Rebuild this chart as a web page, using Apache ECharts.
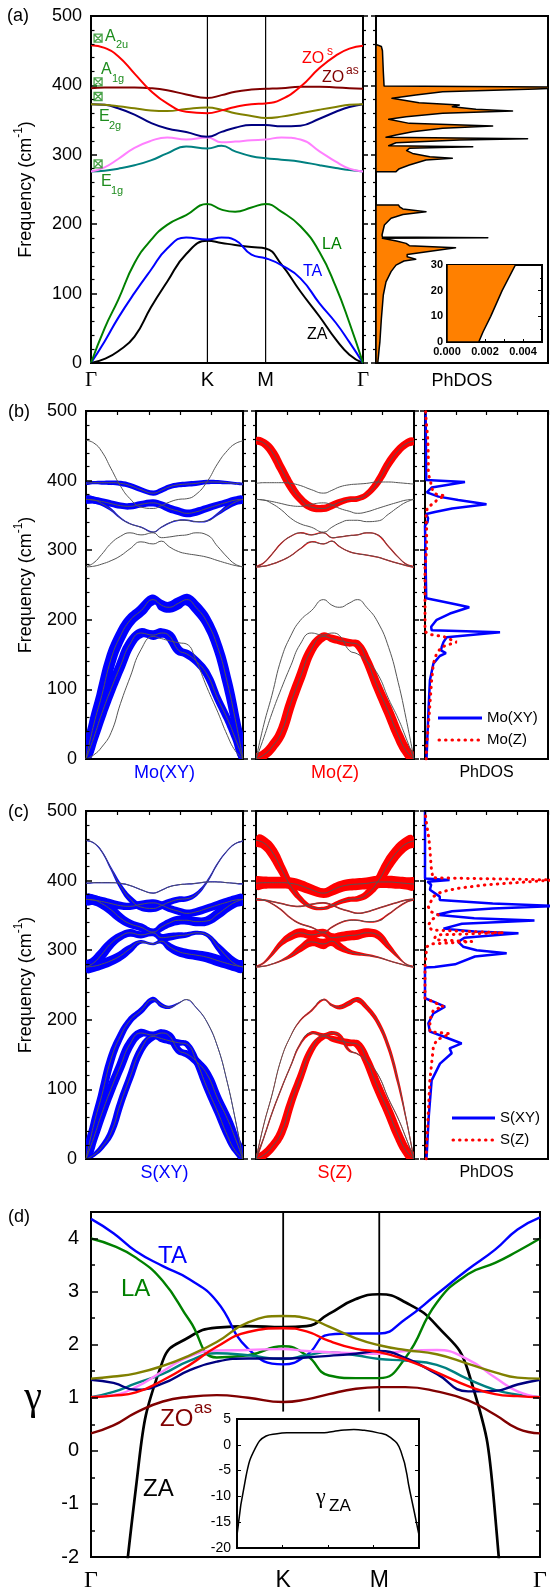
<!DOCTYPE html>
<html>
<head>
<meta charset="utf-8">
<script src="https://cdn.jsdelivr.net/npm/echarts@6.0.0/dist/echarts.min.js"></script>
<style>
html, body { margin: 0; padding: 0; background: #fff; }
#chart { width: 550px; height: 1593px; }
</style>
</head>
<body>
<div id="chart"></div>
<script>
// ---------- path through the Brillouin zone (normalised length) ----------
const kpath = [0, 0.05, 0.10, 0.16, 0.22, 0.28, 0.35, 0.428, 0.48, 0.53, 0.59, 0.642, 0.70, 0.77, 0.84, 0.90, 0.95, 1.0];
const K_POS = 0.428;
const M_POS = 0.642;
const pathLabels = ['Γ', 'K', 'M', 'Γ'];

// ---------- phonon dispersion, cm^-1 ----------
const freqZA   = [0, 6, 17, 38, 80, 117, 157, 176, 173, 170, 167, 165, 142, 103, 67, 34, 12, 0];
const freqTA   = [0, 31, 65, 101, 134, 165, 181, 178, 181, 177, 156, 151, 141, 122, 86, 58, 30, 0];
const freqLA   = [0, 50, 91, 144, 177, 199, 213, 229, 221, 218, 224, 229, 218, 197, 160, 110, 58, 0];
const freqTO1  = [276, 277, 280, 285, 292, 302, 312, 309, 313, 305, 298, 295, 293, 290, 285, 281, 278, 276];
const freqTO2  = [276, 282, 294, 310, 320, 325, 322, 325, 318, 319, 321, 322, 325, 322, 305, 290, 280, 276];
const freqLO1  = [373, 372, 367, 358, 346, 338, 333, 326, 333, 339, 343, 343, 341, 342, 352, 362, 369, 373];
const freqLO2  = [373, 372, 370, 367, 364, 363, 366, 368, 365, 360, 356, 353, 355, 360, 365, 369, 372, 373];
const freqZOas = [396, 397, 397, 397, 396, 393, 387, 382, 386, 391, 394, 395, 396, 398, 398, 397, 396, 395];
const freqZOs  = [458, 454, 442, 417, 392, 374, 362, 360, 364, 369, 373, 374, 380, 398, 425, 443, 453, 457];

// Raman / IR modes at Γ
const ramanNames = ['A2u', 'A1g', 'E2g', 'E1g'];
const ramanFreq  = [468, 405, 384, 287];

// ---------- projection weights (0..1) per branch, order ZA,TA,LA,TO1,TO2,LO1,LO2,ZOas,ZOs ----------
const wMoXY = [
  null,
  [0.6, 0.7, 0.75, 0.75, 0.75, 0.75, 0.75, 0.75, 0.75, 0.75, 0.7, 0.65, 0.6, 0.6, 0.55, 0.55, 0.5, 0.5],
  [0.7, 0.8, 0.85, 0.85, 0.85, 0.85, 0.85, 0.8, 0.8, 0.85, 0.9, 0.9, 0.85, 0.8, 0.75, 0.75, 0.7, 0.6],
  null,
  null,
  [0.55, 0.5, 0.35, 0.2, 0.12, 0.1, 0.1, 0.1, 0.1, 0.1, 0.1, 0.1, 0.1, 0.12, 0.2, 0.35, 0.5, 0.55],
  [0.55, 0.55, 0.5, 0.5, 0.5, 0.5, 0.5, 0.55, 0.55, 0.6, 0.6, 0.6, 0.6, 0.55, 0.5, 0.5, 0.55, 0.55],
  [0.2, 0.25, 0.3, 0.35, 0.4, 0.4, 0.4, 0.4, 0.4, 0.4, 0.4, 0.4, 0.4, 0.35, 0.3, 0.25, 0.2, 0.15],
  null
];
const wMoZ = [
  [0.7, 0.75, 0.75, 0.75, 0.75, 0.75, 0.7, 0.65, 0.6, 0.6, 0.6, 0.6, 0.65, 0.7, 0.75, 0.75, 0.75, 0.7],
  null,
  null,
  [0.1, 0.1, 0.1, 0.1, 0.1, 0.1, 0.1, 0.1, 0.1, 0.1, 0.1, 0.1, 0.1, 0.1, 0.1, 0.1, 0.1, 0.1],
  [0.1, 0.1, 0.1, 0.1, 0.1, 0.1, 0.1, 0.1, 0.1, 0.1, 0.1, 0.1, 0.1, 0.1, 0.1, 0.1, 0.1, 0.1],
  null,
  null,
  null,
  [0.55, 0.6, 0.65, 0.65, 0.65, 0.6, 0.6, 0.55, 0.55, 0.5, 0.45, 0.45, 0.45, 0.55, 0.6, 0.6, 0.6, 0.55]
];
const wSXY = [
  [0.2, 0.3, 0.4, 0.5, 0.55, 0.55, 0.55, 0.55, 0.55, 0.55, 0.5, 0.45, 0.5, 0.55, 0.55, 0.5, 0.4, 0.3],
  [0.6, 0.65, 0.7, 0.7, 0.7, 0.7, 0.65, 0.55, 0.6, 0.6, 0.55, 0.55, 0.6, 0.65, 0.65, 0.65, 0.6, 0.6],
  [0.5, 0.55, 0.6, 0.6, 0.55, 0.5, 0.45, 0.45, 0.35, 0.25, 0.1, 0.05, 0.05, 0.05, 0.05, 0.05, 0.05, 0.05],
  [0.9, 0.85, 0.8, 0.75, 0.7, 0.6, 0.3, 0.2, 0.4, 0.6, 0.7, 0.75, 0.75, 0.8, 0.85, 0.85, 0.9, 0.9],
  [0.9, 0.85, 0.8, 0.7, 0.6, 0.6, 0.55, 0.55, 0.6, 0.6, 0.5, 0.4, 0.3, 0.3, 0.5, 0.7, 0.85, 0.9],
  [0.8, 0.8, 0.75, 0.75, 0.7, 0.65, 0.6, 0.55, 0.6, 0.65, 0.7, 0.7, 0.7, 0.7, 0.75, 0.75, 0.8, 0.8],
  [0.8, 0.75, 0.7, 0.65, 0.6, 0.55, 0.55, 0.55, 0.55, 0.55, 0.55, 0.6, 0.6, 0.6, 0.65, 0.7, 0.75, 0.8],
  [0.08, 0.08, 0.08, 0.08, 0.08, 0.08, 0.08, 0.08, 0.08, 0.08, 0.08, 0.08, 0.08, 0.08, 0.08, 0.08, 0.08, 0.08],
  [0.08, 0.08, 0.1, 0.15, 0.3, 0.45, 0.55, 0.55, 0.55, 0.5, 0.45, 0.4, 0.3, 0.15, 0.1, 0.08, 0.08, 0.08]
];
const wSZ = [
  [0.6, 0.65, 0.65, 0.65, 0.6, 0.55, 0.5, 0.45, 0.45, 0.5, 0.55, 0.6, 0.65, 0.7, 0.7, 0.7, 0.7, 0.7],
  [0.1, 0.1, 0.1, 0.1, 0.1, 0.15, 0.25, 0.3, 0.3, 0.3, 0.2, 0.1, 0.05, 0.05, 0.05, 0.05, 0.05, 0.05],
  [0.05, 0.05, 0.05, 0.05, 0.05, 0.1, 0.15, 0.15, 0.2, 0.35, 0.4, 0.4, 0.35, 0.3, 0.25, 0.2, 0.1, 0.05],
  [0.1, 0.1, 0.1, 0.15, 0.3, 0.5, 0.7, 0.8, 0.75, 0.6, 0.4, 0.3, 0.2, 0.15, 0.1, 0.1, 0.1, 0.1],
  [0.1, 0.15, 0.25, 0.4, 0.6, 0.7, 0.7, 0.6, 0.7, 0.75, 0.75, 0.75, 0.7, 0.6, 0.4, 0.2, 0.1, 0.1],
  [0.12, 0.12, 0.12, 0.12, 0.12, 0.12, 0.12, 0.12, 0.12, 0.12, 0.12, 0.12, 0.12, 0.12, 0.12, 0.12, 0.12, 0.12],
  [0.12, 0.12, 0.12, 0.12, 0.12, 0.12, 0.12, 0.12, 0.12, 0.12, 0.12, 0.12, 0.12, 0.12, 0.12, 0.12, 0.12, 0.12],
  [0.95, 0.95, 0.9, 0.9, 0.9, 0.85, 0.8, 0.75, 0.8, 0.85, 0.9, 0.9, 0.9, 0.95, 0.95, 0.95, 0.95, 0.95],
  [0.9, 0.9, 0.85, 0.7, 0.55, 0.4, 0.3, 0.25, 0.3, 0.35, 0.4, 0.45, 0.55, 0.7, 0.85, 0.9, 0.95, 0.95]
];

// ---------- phonon DOS, [frequency, DOS] ----------
const phdosTotal = [
  [0, 0.00167], [4, 0.0019], [10, 0.0023], [20, 0.0029], [30, 0.0036], [64, 0.005], [98, 0.0068],
  [117, 0.0093], [131.6, 0.014], [141, 0.0186], [147, 0.026], [149.5, 0.037], [153, 0.029], [156.5, 0.029],
  [166, 0.074], [169, 0.031], [172.4, 0.028], [175.8, 0.019], [179.6, 0.006], [180.5, 0.104], [181.5, 0.006],
  [184.4, 0.0056], [198.8, 0.0078], [208.5, 0.014], [214, 0.025], [218, 0.0465], [222, 0.025], [225, 0.022],
  [227.6, 0.021], [228, 0], [275.5, 0], [275.7, 0.0186], [280, 0.0217], [285.3, 0.031], [292.5, 0.0465],
  [295, 0.071], [297.3, 0.05], [302, 0.034], [306, 0.0285], [309.3, 0.031], [311.7, 0.09], [313.1, 0.0118],
  [317.4, 0.0186], [321.3, 0.0775], [323.2, 0.141], [325.2, 0.0093], [328.5, 0.0186], [333.3, 0.034],
  [338.1, 0.062], [341.5, 0.1085], [345.3, 0.031], [351.1, 0.0118], [354.9, 0.028], [359.7, 0.062],
  [363.1, 0.127], [365.5, 0.093], [369.3, 0.071], [371.8, 0.0775], [375.1, 0.04], [381.4, 0.0149],
  [386.2, 0.037], [391, 0.062], [394.8, 0.149], [397.5, 0.2], [399.3, 0.0075], [420, 0.0068], [450, 0.006],
  [456, 0.005], [459, 0]
];
const phdosMoXY = [
  [0, 0.01], [3, 0.013], [65, 0.027], [113, 0.04], [137, 0.068], [148, 0.12], [152, 0.17], [156, 0.13],
  [161, 0.136], [168, 0.15], [175, 0.176], [182, 0.61], [185, 0.054], [190, 0.05], [200, 0.095], [209, 0.203],
  [218, 0.36], [222, 0.257], [227, 0.12], [231, 0.01], [335, 0.0], [340, 0.02], [346, 0.025], [352, 0.01],
  [355, 0.08], [360, 0.22], [366, 0.5], [372, 0.27], [377, 0.11], [383, 0.015], [390, 0.054], [398, 0.325],
  [401, 0.01], [500, 0.005]
];
const phdosMoZ = [
  [0, 0.01], [18, 0.013], [66, 0.035], [113, 0.054], [137, 0.068], [152, 0.095], [161, 0.136], [168, 0.257],
  [176, 0.15], [179, 0.04], [183, 0.0], [274, 0.0], [276, 0.013], [300, 0.013], [330, 0.013], [345, 0.01],
  [353, 0.008], [362, 0.022], [367, 0.068], [374, 0.108], [378, 0.163], [381, 0.081], [389, 0.054], [398, 0.046],
  [406, 0.033], [413, 0.027], [437, 0.027], [461, 0.022], [490, 0.008], [500, 0.005]
];
const phdosSXY = [
  [0, 0.005], [3, 0.013], [60, 0.03], [113, 0.054], [137, 0.122], [152, 0.217], [159, 0.2], [166, 0.298],
  [176, 0.15], [183, 0.04], [195, 0.027], [209, 0.068], [219, 0.163], [226, 0.068], [231, 0.0], [275, 0.0],
  [276, 0.08], [279.7, 0.244], [291, 0.406], [295.5, 0.664], [300, 0.42], [305, 0.31], [312, 0.27], [318, 0.32],
  [324.3, 0.76], [327, 0.4], [331, 0.15], [338, 0.3], [342.5, 0.89], [346, 0.4], [351, 0.095], [356, 0.22],
  [360, 0.55], [363.5, 1.05], [367, 0.55], [372, 0.12], [377, 0.12], [387, 0.04], [394, 0.05], [398.5, 0.02],
  [401, 0.2], [403, 0.0], [500, 0.0]
];
const phdosSZ = [
  [0, 0.01], [18, 0.013], [114, 0.04], [161, 0.068], [171, 0.095], [180, 0.203], [183, 0.04], [200, 0.04],
  [214, 0.068], [219, 0.15], [228, 0.04], [231, 0], [276, 0], [277, 0.008], [305, 0.014], [309, 0.054],
  [312.4, 0.38], [315, 0.08], [318.6, 0.081], [322, 0.108], [325, 0.64], [329, 0.054], [336, 0.027],
  [343.5, 0.054], [350.7, 0.108], [356, 0.04], [362.6, 0.027], [377, 0.068], [384, 0.135], [389, 0.27],
  [393.8, 0.49], [401, 1.05], [404, 0.06], [408, 0.06], [420, 0.05], [444, 0.04], [458.6, 0.033], [487, 0.008],
  [500, 0]
];

// ---------- mode Grüneisen parameters ----------
const gamZA   = [-17.5, -6, -0.7, 1.7, 2.15, 2.32, 2.35, 2.33, 2.35, 2.58, 2.86, 2.95, 2.8, 2.36, 1.5, -1.2, -9, -17.5];
const gamTA   = [4.37, 4.1, 3.76, 3.48, 3.23, 2.82, 1.92, 1.63, 1.80, 2.19, 2.21, 2.21, 2.48, 2.95, 3.42, 3.79, 4.17, 4.4];
const gamLA   = [4.0, 3.86, 3.64, 3.2, 2.45, 1.76, 1.8, 1.97, 1.80, 1.42, 1.37, 1.37, 1.75, 2.79, 3.33, 3.54, 3.76, 4.0];
const gamTO1  = [1.01, 1.11, 1.27, 1.45, 1.70, 1.84, 1.80, 1.73, 1.80, 1.86, 1.80, 1.73, 1.70, 1.62, 1.35, 1.15, 1.06, 1.01];
const gamTO2  = [1.01, 1.05, 1.2, 1.5, 1.78, 1.89, 1.9, 1.92, 1.88, 1.86, 1.84, 1.83, 1.88, 1.9, 1.72, 1.38, 1.12, 1.01];
const gamLO1  = [1.34, 1.28, 1.15, 1.27, 1.52, 1.68, 1.74, 1.74, 1.76, 1.79, 1.83, 1.88, 1.75, 1.45, 1.12, 1.13, 1.25, 1.34];
const gamLO2  = [1.36, 1.40, 1.46, 1.6, 1.8, 2.05, 2.42, 2.54, 2.50, 2.34, 2.12, 1.99, 1.9, 1.82, 1.64, 1.48, 1.38, 1.36];
const gamZOas = [0.33, 0.48, 0.72, 0.93, 1.02, 1.05, 1.0, 0.92, 0.97, 1.07, 1.17, 1.2, 1.2, 1.12, 0.95, 0.68, 0.42, 0.33];
const gamZOs  = [1.01, 1.04, 1.10, 1.33, 1.62, 1.96, 2.24, 2.31, 2.25, 2.07, 1.92, 1.86, 1.72, 1.48, 1.22, 1.07, 1.03, 1.01];

// ---------- drawing ----------
const bands = [freqZA, freqTA, freqLA, freqTO1, freqTO2, freqLO1, freqLO2, freqZOas, freqZOs];
const gammas = [gamZA, gamTA, gamLA, gamTO1, gamTO2, gamLO1, gamLO2, gamZOas, gamZOs];
const branchColors = ['#000000', '#0000ff', '#008000', '#008080', '#ff80ff', '#000080', '#808000', '#800000', '#ff0000'];

const FONT = '"Liberation Sans", Arial, sans-serif';
const SERIF = '"Liberation Serif", "DejaVu Serif", serif';
const GREEN_TXT = '#1e8c1e';
const BLUE = '#0000ff', RED = '#ff0000';
const FAT_MAX = 13;
const RAMAN_X = 0.026;

const grids = [
  { left: 91, top: 16, width: 272, height: 347 },                 // 0 (a) dispersion
  { left: 376, top: 16, width: 172, height: 347 },                // 1 (a) PhDOS
  { left: 447, top: 265, width: 95, height: 77, z: 5 },           // 2 (a) inset
  { left: 86, top: 411, width: 157, height: 348 },                // 3 (b) Mo(XY)
  { left: 256, top: 411, width: 158, height: 348 },               // 4 (b) Mo(Z)
  { left: 425, top: 411, width: 123, height: 348 },               // 5 (b) PhDOS
  { left: 86, top: 811, width: 157, height: 348 },                // 6 (c) S(XY)
  { left: 256, top: 811, width: 158, height: 348 },               // 7 (c) S(Z)
  { left: 425, top: 811, width: 123, height: 348 },               // 8 (c) PhDOS
  { left: 91, top: 1212, width: 449, height: 347 },               // 9 (d) Grüneisen
  { left: 237, top: 1419, width: 182, height: 129, z: 5 }         // 10 (d) inset
].map(g => Object.assign({ show: true, borderColor: '#000', borderWidth: 2, backgroundColor: '#fff', containLabel: false }, g));

const xAxes = [], yAxes = [];
function baseAxis(grid) {
  return { gridIndex: grid, type: 'value', axisLine: { show: false, onZero: false }, splitLine: { show: false },
    axisTick: { show: false }, axisLabel: { show: false }, z: (grid === 2 || grid === 10) ? 7 : 4 };
}
function addX(grid, o) { xAxes.push(Object.assign(baseAxis(grid), o)); return xAxes.length - 1; }
function addY(grid, o) { yAxes.push(Object.assign(baseAxis(grid), o)); return yAxes.length - 1; }
function tick(inside, len, w) { return { show: true, inside: inside, length: len, lineStyle: { color: '#000', width: w || 1.5 } }; }
function minor(n, len) { return { show: true, splitNumber: n, length: len, lineStyle: { color: '#000', width: 1.2 } }; }
function numLabel(size, margin, extra) {
  return Object.assign({ show: true, color: '#000', fontSize: size, fontFamily: FONT, margin: margin }, extra || {});
}
function pathLabel(size, margin) {
  return {
    show: true, customValues: [0, K_POS, M_POS, 1], color: '#000', fontSize: size, fontFamily: FONT, margin: margin,
    formatter: function (v) {
      const i = [0, K_POS, M_POS, 1].findIndex(p => Math.abs(p - v) < 1e-6);
      const t = pathLabels[i < 0 ? 0 : i];
      return t === 'Γ' ? '{g|Γ}' : t;
    },
    rich: { g: { fontFamily: SERIF, fontSize: size + 1, color: '#000' } }
  };
}
const freqRange = { min: 0, max: 500, interval: 100 };

// (a)
const ax0 = addX(0, { min: 0, max: 1, axisLabel: pathLabel(20, 7) });
const ay0 = addY(0, Object.assign({ position: 'left', axisTick: tick(true, 6), minorTick: minor(5, 3.5), axisLabel: numLabel(18, 9) }, freqRange));
addY(0, Object.assign({ position: 'right', axisTick: tick(false, 5), minorTick: minor(5, 3) }, freqRange));
const ax1 = addX(1, { min: 0, max: 0.16 });
const ay1 = addY(1, Object.assign({ position: 'left', axisTick: tick(false, 5), minorTick: minor(5, 3) }, freqRange));
const ax2 = addX(2, { min: 0, max: 0.005, interval: 0.001, axisTick: tick(true, 3, 1),
  axisLabel: numLabel(11, 4, { fontWeight: 'bold', formatter: v => (Math.round(v * 1000) % 2 === 0 ? v.toFixed(3) : '') }) });
const ay2 = addY(2, { min: 0, max: 30, interval: 10, position: 'left', axisTick: tick(true, 4, 1), minorTick: minor(2, 2),
  axisLabel: numLabel(11, 4, { fontWeight: 'bold' }) });
addY(2, { min: 0, max: 30, interval: 10, position: 'right', axisTick: tick(true, 4, 1), minorTick: minor(2, 2) });

// (b) and (c)
function projectionAxes(g0) {
  const r = {};
  r.x0 = addX(g0, { min: 0, max: 1, interval: 0.2, position: 'top', axisTick: tick(true, 4, 1.2) });
  r.y0 = addY(g0, Object.assign({ position: 'left', axisTick: tick(true, 6), minorTick: minor(5, 3.5), axisLabel: numLabel(18, 9) }, freqRange));
  addY(g0, Object.assign({ position: 'right', axisTick: tick(false, 5), minorTick: minor(5, 3) }, freqRange));
  r.x1 = addX(g0 + 1, { min: 0, max: 1, interval: 0.2, position: 'top', axisTick: tick(true, 4, 1.2) });
  r.y1 = addY(g0 + 1, Object.assign({ position: 'left', axisTick: tick(false, 5), minorTick: minor(5, 3) }, freqRange));
  addY(g0 + 1, Object.assign({ position: 'right', axisTick: tick(false, 5), minorTick: minor(5, 3) }, freqRange));
  r.x2 = addX(g0 + 2, { min: 0, max: 1, interval: 0.25, position: 'top', axisTick: tick(true, 4, 1.2) });
  r.y2 = addY(g0 + 2, Object.assign({ position: 'left', axisTick: tick(false, 5), minorTick: minor(5, 3) }, freqRange));
  return r;
}
const axB = projectionAxes(3);
const axC = projectionAxes(6);

// (d)
const ax9 = addX(9, { min: 0, max: 1, axisLabel: pathLabel(23, 12) });
const ay9 = addY(9, { min: -2, max: 4.5, interval: 1, position: 'left', axisTick: tick(true, 7),
  axisLabel: numLabel(20, 12, { formatter: v => (Number.isInteger(v) ? String(v) : '') }) });
addY(9, { min: -2, max: 4.5, interval: 0.5, position: 'left', axisTick: tick(true, 4) });
addY(9, { min: -2, max: 4.5, interval: 1, position: 'right', axisTick: tick(true, 7) });
addY(9, { min: -2, max: 4.5, interval: 0.5, position: 'right', axisTick: tick(true, 4) });
const ax10 = addX(10, { min: 0, max: 1, interval: 0.25, axisTick: tick(true, 3, 1) });
const ay10 = addY(10, { min: -20, max: 5, interval: 5, position: 'left', axisTick: tick(true, 4, 1), axisLabel: numLabel(14, 6) });
addY(10, { min: -20, max: 5, interval: 5, position: 'right', axisTick: tick(true, 4, 1) });

// ---------- series ----------
const series = [];
function pathLine(xi, yi, values, color, width, z) {
  return { type: 'line', xAxisIndex: xi, yAxisIndex: yi, data: kpath.map((x, i) => [x, values[i]]),
    smooth: true, symbol: 'none', silent: true, z: z || 3, lineStyle: { color: color, width: width } };
}
function vLine(xi, yi, x, y0, y1, w) {
  return { type: 'line', xAxisIndex: xi, yAxisIndex: yi, data: [[x, y0], [x, y1]], symbol: 'none', silent: true, z: 2,
    lineStyle: { color: '#000', width: w || 1.2 } };
}
function fatBands(xi, yi, weights, color) {
  const items = [];
  weights.forEach((w, b) => { if (w) items.push([0.5, 250, b]); });
  return {
    type: 'custom', xAxisIndex: xi, yAxisIndex: yi, clip: true, silent: true, z: 2, data: items,
    renderItem: function (params, api) {
      const b = api.value(2);
      const w = weights[b], band = bands[b];
      const pts = kpath.map((x, i) => api.coord([x, band[i]]));
      const up = [], dn = [];
      for (let i = 0; i < pts.length; i++) {
        const a = pts[Math.max(0, i - 1)], c = pts[Math.min(pts.length - 1, i + 1)];
        const tx = c[0] - a[0], ty = c[1] - a[1];
        const L = Math.hypot(tx, ty) || 1;
        const nx = -ty / L, ny = tx / L, h = w[i] * FAT_MAX / 2;
        up.push([pts[i][0] + nx * h, pts[i][1] + ny * h]);
        dn.push([pts[i][0] - nx * h, pts[i][1] - ny * h]);
      }
      return { type: 'polygon', shape: { points: up.concat(dn.reverse()), smooth: 0.4 }, style: { fill: color } };
    }
  };
}
function dosFill(xi, yi, data, z) {
  return {
    type: 'custom', xAxisIndex: xi, yAxisIndex: yi, clip: true, silent: true, z: z || 2, data: [[0, 0]],
    renderItem: function (params, api) {
      const pts = [api.coord([0, data[0][0]])];
      data.forEach(p => pts.push(api.coord([p[1], p[0]])));
      pts.push(api.coord([0, data[data.length - 1][0]]));
      return { type: 'polygon', shape: { points: pts }, style: { fill: '#ff8000', stroke: '#000', lineWidth: 1.5, lineJoin: 'round' } };
    }
  };
}
function dosLine(xi, yi, data, color, dotted) {
  return { type: 'line', xAxisIndex: xi, yAxisIndex: yi, data: data.map(p => [p[1], p[0]]), symbol: 'none', silent: true,
    z: dotted ? 4 : 3,
    lineStyle: dotted ? { color: color, width: 3, type: [0.5, 6], cap: 'round' } : { color: color, width: 2.5 } };
}

// (a) dispersion
series.push(vLine(ax0, ay0, K_POS, 0, 500), vLine(ax0, ay0, M_POS, 0, 500));
bands.forEach((b, i) => series.push(pathLine(ax0, ay0, b, branchColors[i], 2)));
series.push({
  type: 'scatter', xAxisIndex: ax0, yAxisIndex: ay0, silent: true, z: 5,
  data: ramanFreq.map(f => [RAMAN_X, f]),
  symbol: 'path://M0,0L10,0L10,10L0,10ZM0,0L10,10M10,0L0,10', symbolSize: 8,
  itemStyle: { color: 'rgba(0,0,0,0)', borderColor: GREEN_TXT, borderWidth: 1.3 }
});
series.push(dosFill(ax1, ay1, phdosTotal));
series.push(dosFill(ax2, ay2, phdosTotal, 8));

// (b) and (c) projected dispersions
function projected(ax, wXY, wZ, dosXY, dosZ) {
  series.push(fatBands(ax.x0, ax.y0, wXY, BLUE));
  series.push(fatBands(ax.x1, ax.y1, wZ, RED));
  bands.forEach(b => {
    series.push(pathLine(ax.x0, ax.y0, b, '#555', 1, 3));
    series.push(pathLine(ax.x1, ax.y1, b, '#555', 1, 3));
  });
  series.push(dosLine(ax.x2, ax.y2, dosXY, BLUE, false));
  series.push(dosLine(ax.x2, ax.y2, dosZ, RED, true));
}
projected(axB, wMoXY, wMoZ, phdosMoXY, phdosMoZ);
projected(axC, wSXY, wSZ, phdosSXY, phdosSZ);

// (d) Grüneisen
series.push(vLine(ax9, ay9, K_POS, 4.5, 0.74, 1.8), vLine(ax9, ay9, M_POS, 4.5, 0.74, 1.8));
gammas.forEach((g, i) => series.push(pathLine(ax9, ay9, g, branchColors[i], i === 0 ? 2.7 : 2.4)));
series.push(Object.assign(pathLine(ax10, ay10, gamZA, '#000', 1.5), { z: 8 }));

// ---------- text ----------
function txt(x, y, text, size, color, o) {
  return Object.assign({ type: 'text', x: x, y: y, z: 100, silent: true,
    style: Object.assign({ text: text, fill: color || '#000', fontSize: size, fontFamily: FONT, align: 'left', verticalAlign: 'middle' }, (o && o.style) || {}) },
    o && o.rotation ? { rotation: o.rotation } : {});
}
function ctxt(x, y, text, size, color, family) {
  return txt(x, y, text, size, color, { style: { align: 'center', fontFamily: family || FONT } });
}
function freqTitle(cx, cy) {
  return { type: 'text', x: cx, y: cy, rotation: Math.PI / 2, z: 100, silent: true,
    style: { text: '{n|Frequency (cm}{s|-1}{n|)}', align: 'center', verticalAlign: 'middle',
      rich: { n: { fontSize: 18, fontFamily: FONT, fill: '#000', lineHeight: 23, verticalAlign: 'bottom' },
              s: { fontSize: 12, fontFamily: FONT, fill: '#000', lineHeight: 12, verticalAlign: 'top' } } } };
}
const graphics = [
  // (a)
  txt(7, 16, '(a)', 18), freqTitle(24, 189.5),
  txt(105, 37, 'A', 16, GREEN_TXT), txt(116, 45, '2u', 11, GREEN_TXT),
  txt(101, 70, 'A', 16, GREEN_TXT), txt(112, 79, '1g', 11, GREEN_TXT),
  txt(99, 117, 'E', 16, GREEN_TXT), txt(109, 126, '2g', 11, GREEN_TXT),
  txt(101, 182, 'E', 16, GREEN_TXT), txt(111, 191, '1g', 11, GREEN_TXT),
  txt(302, 59, 'ZO', 16, RED), txt(327, 52, 's', 12, RED),
  txt(322, 78, 'ZO', 16, '#800000'), txt(346, 71, 'as', 12, '#800000'),
  txt(322, 245, 'LA', 16, '#008000'), txt(303, 272, 'TA', 16, BLUE), txt(307, 335, 'ZA', 16, '#000'),
  ctxt(462, 381, 'PhDOS', 18),
  // (b)
  txt(8, 412, '(b)', 18), freqTitle(24, 585),
  ctxt(164.5, 773, 'Mo(XY)', 18, BLUE), ctxt(335, 773, 'Mo(Z)', 18, RED), ctxt(486.5, 773, 'PhDOS', 16),
  { type: 'line', z: 100, silent: true, shape: { x1: 438, y1: 718, x2: 482, y2: 718 }, style: { stroke: BLUE, lineWidth: 3 } },
  { type: 'line', z: 100, silent: true, shape: { x1: 439, y1: 740, x2: 482, y2: 740 }, style: { stroke: RED, lineWidth: 3, lineDash: [0.5, 6], lineCap: 'round' } },
  txt(487, 718, 'Mo(XY)', 15), txt(487, 740, 'Mo(Z)', 15),
  // (c)
  txt(8, 812, '(c)', 18), freqTitle(24, 985),
  ctxt(164.5, 1173, 'S(XY)', 18, BLUE), ctxt(335, 1173, 'S(Z)', 18, RED), ctxt(486.5, 1173, 'PhDOS', 16),
  { type: 'line', z: 100, silent: true, shape: { x1: 452, y1: 1118, x2: 495, y2: 1118 }, style: { stroke: BLUE, lineWidth: 3 } },
  { type: 'line', z: 100, silent: true, shape: { x1: 453, y1: 1140, x2: 495, y2: 1140 }, style: { stroke: RED, lineWidth: 3, lineDash: [0.5, 6], lineCap: 'round' } },
  txt(500, 1118, 'S(XY)', 15), txt(500, 1140, 'S(Z)', 15),
  // (d)
  txt(8, 1217, '(d)', 18),
  ctxt(33, 1398, 'γ', 40, '#000', SERIF),
  txt(158, 1256, 'TA', 24, BLUE), txt(121, 1289, 'LA', 24, '#008000'), txt(143, 1489, 'ZA', 24, '#000'),
  txt(160, 1419, 'ZO', 24, '#800000'), txt(194, 1408, 'as', 17, '#800000'),
  txt(316, 1497, 'γ', 22, '#000', { style: { fontFamily: SERIF } }), txt(329, 1506, 'ZA', 17, '#000')
];

const chart = echarts.init(document.getElementById('chart'), null, { renderer: 'canvas', width: 550, height: 1593 });
chart.setOption({
  animation: false,
  backgroundColor: '#fff',
  grid: grids,
  xAxis: xAxes,
  yAxis: yAxes,
  series: series,
  graphic: graphics
});
</script>
</body>
</html>
